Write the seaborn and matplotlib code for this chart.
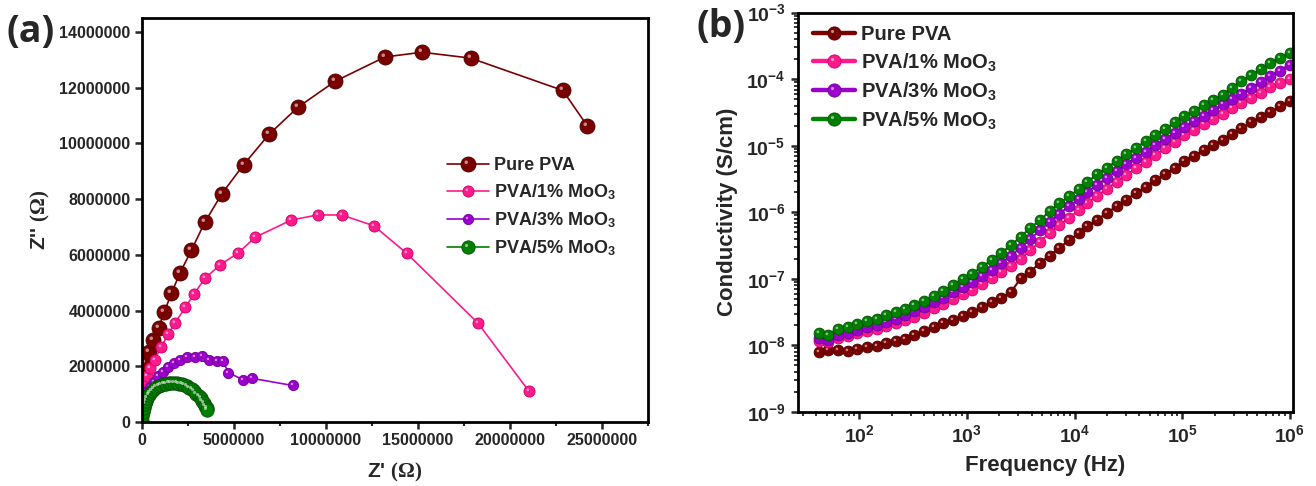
import numpy as np
import pandas as pd
import seaborn as sns
import matplotlib
matplotlib.use("Agg")
import matplotlib.pyplot as plt
from matplotlib.path import Path
from matplotlib.lines import Line2D
from matplotlib.legend_handler import HandlerTuple
from matplotlib.ticker import (MultipleLocator, StrMethodFormatter, LogLocator,
                               FixedLocator, FuncFormatter, NullFormatter)

# ---------------- data: panel (a) Nyquist (values in ohm) ----------------
labels = ["Pure PVA", "PVA/1% MoO$_\\mathbf{3}$", "PVA/3% MoO$_\\mathbf{3}$", "PVA/5% MoO$_\\mathbf{3}$"]
colors = ["#7a0000", "#ff1a8c", "#9b00cc", "#008000"]
edge_colors = ["#4a0000", "#c8006a", "#6e0096", "#005200"]

pure_zr = [0.03, 0.07, 0.18, 0.40, 0.63, 0.92, 1.23, 1.61, 2.08, 2.70, 3.43, 4.35, 5.54,
           6.91, 8.49, 10.51, 13.21, 15.22, 17.86, 22.87, 24.20]
pure_zi = [1.35, 1.74, 2.13, 2.50, 2.94, 3.39, 3.95, 4.62, 5.35, 6.17, 7.17, 8.19, 9.24,
           10.32, 11.30, 12.23, 13.10, 13.27, 13.06, 11.90, 10.63]

mo1_zr = [0.01, 0.03, 0.12, 0.27, 0.45, 0.70, 1.07, 1.43, 1.82, 2.37, 2.85, 3.43, 4.27,
          5.25, 6.16, 8.13, 9.55, 10.87, 12.61, 14.40, 18.25, 21.04]
mo1_zi = [0.75, 1.03, 1.33, 1.65, 1.93, 2.24, 2.70, 3.15, 3.57, 4.11, 4.61, 5.15, 5.65,
          6.07, 6.63, 7.25, 7.43, 7.43, 7.04, 6.05, 3.56, 1.10]

mo3_zr = [0.02, 0.12, 0.27, 0.45, 0.67, 0.90, 1.14, 1.45, 1.77, 2.08, 2.48, 2.90, 3.26,
          3.67, 4.11, 4.40, 4.71, 5.52, 5.97, 8.20]
mo3_zi = [0.75, 0.97, 1.12, 1.27, 1.45, 1.65, 1.81, 1.96, 2.11, 2.23, 2.32, 2.32, 2.37,
          2.23, 2.20, 2.20, 1.77, 1.51, 1.57, 1.31]

mo5_zr = [0.02, 0.04, 0.07, 0.11, 0.16, 0.22, 0.29, 0.37, 0.46, 0.56, 0.67, 0.79, 0.92,
          1.05, 1.19, 1.33, 1.47, 1.61, 1.75, 1.89, 2.03, 2.17, 2.31, 2.45, 2.59, 2.72,
          2.85, 2.97, 3.09, 3.20, 3.30, 3.39, 3.46, 3.52, 3.56]
mo5_zi = [0.05, 0.20, 0.35, 0.50, 0.63, 0.75, 0.86, 0.96, 1.04, 1.11, 1.18, 1.24, 1.29,
          1.33, 1.36, 1.38, 1.40, 1.41, 1.41, 1.40, 1.38, 1.36, 1.32, 1.28, 1.23, 1.17,
          1.10, 1.02, 0.94, 0.85, 0.76, 0.67, 0.58, 0.50, 0.44]
mega = 1e6  # values above are in units of 10^6 ohm

# ---------------- data: panel (b) conductivity ----------------
freq_hz = [42, 51, 63, 78, 95, 117, 145, 178, 219, 269, 324, 398, 490, 603, 741, 912,
           1122, 1380, 1698, 2089, 2570, 3162, 3890, 4786, 5888, 7244, 8913, 10965,
           13183, 16218, 19953, 24547, 30200, 37154, 45709, 56234, 69183, 85114,
           104713, 128825, 158489, 194984, 239883, 288403, 354813, 436516, 537032,
           660693, 812831, 1000000]
# log10 of conductivity (S/cm)
pure_log_sigma = [-8.10, -8.07, -8.07, -8.08, -8.05, -8.03, -8.01, -7.97, -7.94, -7.90,
                  -7.85, -7.79, -7.73, -7.67, -7.62, -7.56, -7.50, -7.43, -7.35, -7.28,
                  -7.20, -6.99, -6.89, -6.76, -6.65, -6.53, -6.42, -6.31, -6.21, -6.11,
                  -6.01, -5.91, -5.81, -5.71, -5.62, -5.52, -5.43, -5.33, -5.23, -5.15,
                  -5.07, -4.99, -4.91, -4.83, -4.74, -4.65, -4.57, -4.49, -4.41, -4.33]
mo1_log_sigma = [-7.93, -7.95, -7.89, -7.86, -7.82, -7.79, -7.76, -7.71, -7.67, -7.62,
                 -7.57, -7.51, -7.44, -7.38, -7.31, -7.23, -7.16, -7.08, -6.99, -6.90,
                 -6.81, -6.70, -6.57, -6.44, -6.31, -6.19, -6.08, -5.97, -5.86, -5.75,
                 -5.65, -5.54, -5.44, -5.34, -5.24, -5.14, -5.04, -4.94, -4.84, -4.76,
                 -4.68, -4.60, -4.52, -4.44, -4.36, -4.28, -4.20, -4.12, -4.06, -4.00]
mo3_log_sigma = [-7.89, -7.92, -7.85, -7.81, -7.77, -7.73, -7.70, -7.65, -7.60, -7.54,
                 -7.48, -7.42, -7.35, -7.28, -7.20, -7.12, -7.04, -6.95, -6.86, -6.76,
                 -6.65, -6.53, -6.40, -6.27, -6.14, -6.02, -5.91, -5.80, -5.69, -5.59,
                 -5.48, -5.38, -5.28, -5.18, -5.09, -4.99, -4.90, -4.81, -4.72, -4.63,
                 -4.55, -4.47, -4.38, -4.30, -4.22, -4.13, -4.04, -3.95, -3.87, -3.78]
mo5_log_sigma = [-7.81, -7.84, -7.75, -7.72, -7.68, -7.64, -7.61, -7.55, -7.50, -7.45,
                 -7.39, -7.33, -7.26, -7.18, -7.09, -7.00, -6.92, -6.82, -6.72, -6.61,
                 -6.49, -6.37, -6.23, -6.12, -5.98, -5.86, -5.76, -5.65, -5.54, -5.43,
                 -5.33, -5.23, -5.13, -5.03, -4.93, -4.84, -4.75, -4.65, -4.56, -4.48,
                 -4.39, -4.31, -4.23, -4.13, -4.03, -3.94, -3.85, -3.76, -3.68, -3.60]
freq_ticks = [1e2, 1e3, 1e4, 1e5, 1e6]
sigma_ticks = [1e-9, 1e-8, 1e-7, 1e-6, 1e-5, 1e-4, 1e-3]

# ---------------- style ----------------
sns.set_theme(style="ticks")
plt.rcParams["font.family"] = ["Liberation Sans", "DejaVu Sans"]
plt.rcParams["font.weight"] = "bold"
plt.rcParams["mathtext.fontset"] = "custom"
plt.rcParams["mathtext.rm"] = "Liberation Serif"
plt.rcParams["mathtext.it"] = "Liberation Serif:italic"
plt.rcParams["mathtext.bf"] = "Liberation Sans:bold"

# glossy highlight marker: small circle offset to the upper-left inside the ball
_c = Path.circle(center=(-0.30, 0.30), radius=0.24)
hl_marker = Path(np.vstack([_c.vertices, [[1, 1], [-1, -1]]]),
                 np.concatenate([_c.codes, [Path.MOVETO, Path.MOVETO]]))

fig = plt.figure(figsize=(13.16, 4.86), dpi=100)
axA = fig.add_axes([0.1077, 0.1317, 0.3847, 0.8313])
axB = fig.add_axes([0.6064, 0.1523, 0.3761, 0.8217])

# ---------------- panel (a) ----------------
nyq = [(pure_zr, pure_zi, 10.8), (mo1_zr, mo1_zi, 8.0), (mo3_zr, mo3_zi, 7.4), (mo5_zr, mo5_zi, 9.6)]
handlesA = []
for (zr, zi, ms), c, ec in zip(nyq, colors, edge_colors):
    df = pd.DataFrame({"zr": np.array(zr) * mega, "zi": np.array(zi) * mega})
    sns.lineplot(data=df, x="zr", y="zi", sort=False, estimator=None, ax=axA,
                 color=c, linewidth=1.2, marker="o", markersize=ms,
                 markeredgecolor=ec, markeredgewidth=0.6, legend=False)
    main = axA.lines[-1]
    hl, = axA.plot(df["zr"], df["zi"], linestyle="none", marker=hl_marker,
                   markersize=ms, color="white", alpha=0.55, markeredgewidth=0)
    handlesA.append((main, hl))

axA.set_xlim(0, 27.5e6)
axA.set_ylim(0, 14.5e6)
axA.xaxis.set_major_locator(MultipleLocator(5e6))
axA.xaxis.set_minor_locator(MultipleLocator(2.5e6))
axA.yaxis.set_major_locator(MultipleLocator(2e6))
axA.xaxis.set_major_formatter(StrMethodFormatter("{x:.0f}"))
axA.yaxis.set_major_formatter(StrMethodFormatter("{x:.0f}"))
axA.tick_params(which="major", direction="out", length=5, width=1.8, labelsize=11.5, pad=3)
axA.tick_params(which="minor", direction="out", length=3, width=1.5)
axA.set_xlabel(r"Z' $\mathrm{(\Omega)}$", fontsize=15, fontweight="bold", labelpad=9)
axA.set_ylabel(r"Z'' $\mathrm{(\Omega)}$", fontsize=15, fontweight="bold", labelpad=5)
axA.legend(handlesA, labels, loc="upper left", bbox_to_anchor=(0.603, 0.655),
           frameon=False, fontsize=13, handlelength=2.3, handletextpad=0.3,
           labelspacing=0.45, borderaxespad=0, borderpad=0,
           handler_map={tuple: HandlerTuple(ndivide=1)})

# ---------------- panel (b) ----------------
cond = [pure_log_sigma, mo1_log_sigma, mo3_log_sigma, mo5_log_sigma]
handlesB = []
for ls, c, ec in zip(cond, colors, edge_colors):
    df = pd.DataFrame({"f": freq_hz, "s": np.power(10.0, ls)})
    sns.lineplot(data=df, x="f", y="s", sort=False, estimator=None, ax=axB,
                 color=c, linewidth=1.5, marker="o", markersize=7.8,
                 markeredgecolor=ec, markeredgewidth=0.6, legend=False)
    axB.plot(df["f"], df["s"], linestyle="none", marker=hl_marker,
             markersize=7.8, color="white", alpha=0.55, markeredgewidth=0)
    # legend proxies (bigger balls and thicker line, as in the reference legend)
    p_main = Line2D([], [], color=c, linewidth=3.2, marker="o", markersize=9.5,
                    markeredgecolor=ec, markeredgewidth=0.6)
    p_hl = Line2D([], [], linestyle="none", marker=hl_marker, markersize=9.5,
                  color="white", alpha=0.55, markeredgewidth=0)
    handlesB.append((p_main, p_hl))

axB.set_xscale("log")
axB.set_yscale("log")
axB.set_xlim(27, 1.07e6)
axB.set_ylim(1e-9, 1e-3)
axB.xaxis.set_major_locator(FixedLocator(freq_ticks))
axB.xaxis.set_minor_locator(LogLocator(base=10, subs=np.arange(2, 10), numticks=12))
axB.yaxis.set_major_locator(FixedLocator(sigma_ticks))
axB.yaxis.set_minor_locator(LogLocator(base=10, subs=np.arange(2, 10), numticks=12))
fmt = FuncFormatter(lambda v, p: r"$\mathbf{10^{%d}}$" % int(round(np.log10(v))))
axB.xaxis.set_major_formatter(fmt)
axB.yaxis.set_major_formatter(fmt)
axB.xaxis.set_minor_formatter(NullFormatter())
axB.yaxis.set_minor_formatter(NullFormatter())
axB.tick_params(which="major", direction="out", length=5, width=1.8, labelsize=14, pad=4)
axB.tick_params(which="minor", direction="out", length=3, width=1.3)
axB.set_xlabel("Frequency (Hz)", fontsize=16, fontweight="bold", labelpad=6)
axB.set_ylabel("Conductivity (S/cm)", fontsize=16, fontweight="bold", labelpad=6)
axB.legend(handlesB, labels, loc="upper left", bbox_to_anchor=(0.03, 0.97),
           frameon=False, fontsize=14.5, handlelength=2.1, handletextpad=0.3,
           labelspacing=0.36, borderaxespad=0, borderpad=0,
           handler_map={tuple: HandlerTuple(ndivide=1)})

for ax in (axA, axB):
    for sp in ax.spines.values():
        sp.set_visible(True)
        sp.set_linewidth(2.0)
        sp.set_color("black")

fig.text(0.005, 0.935, "(a)", fontsize=27, fontweight="bold", family=["Open Sans", "DejaVu Sans"],
         va="center", ha="left")
fig.text(0.529, 0.945, "(b)", fontsize=27, fontweight="bold", family=["Open Sans", "DejaVu Sans"],
         va="center", ha="left")

fig.savefig("out.png", dpi=100)
